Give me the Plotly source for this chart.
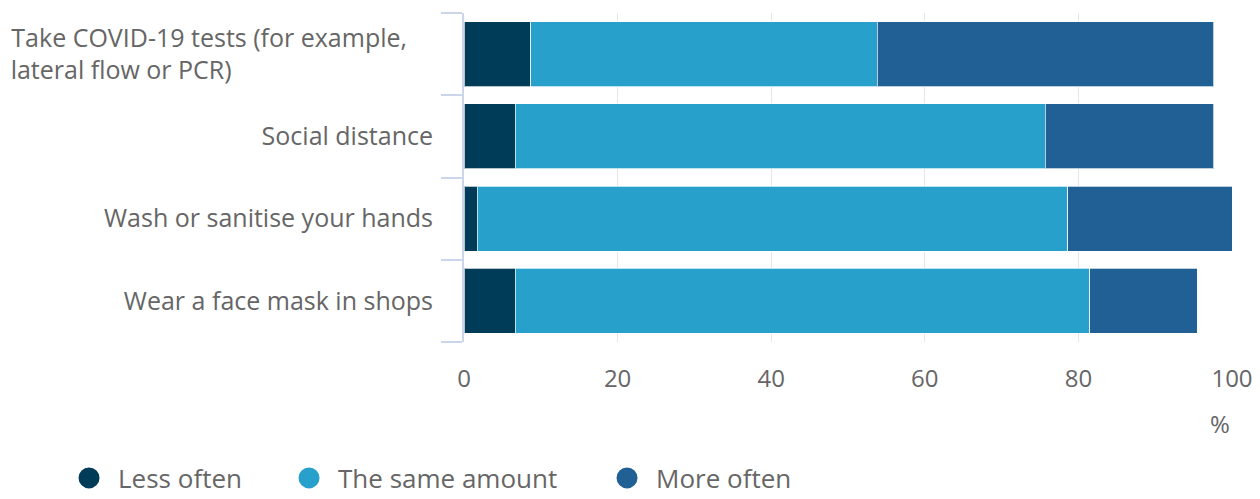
import plotly.graph_objects as go

# ---- data ----
categories = [
    "Take COVID-19 tests (for example, lateral flow or PCR)",
    "Social distance",
    "Wash or sanitise your hands",
    "Wear a face mask in shops",
]
tick_labels = [
    "Take COVID-19 tests (for example,<br>lateral flow or PCR)",
    "Social distance",
    "Wash or sanitise your hands",
    "Wear a face mask in shops",
]
series_names = ["Less often", "The same amount", "More often"]
less_often = [8.7, 6.7, 1.7, 6.7]
same_amount = [45.1, 69.0, 76.9, 74.8]
more_often = [43.8, 21.9, 21.4, 14.0]
x_ticks = [0, 20, 40, 60, 80, 100]

colors = ["#003c57", "#27a0cc", "#206095"]
TEXT = "#666666"
FONT = "Open Sans"
NB = "\u00a0"

# left-align the wrapped first label with non-breaking space padding
display_labels = []
for lab in tick_labels:
    if "<br>" in lab:
        l1, l2 = lab.split("<br>")
        lab = l1 + NB * 4 + "<br>" + l2 + NB * 31
    display_labels.append(lab)

fig = go.Figure()
for name, vals, col in zip(series_names, [less_often, same_amount, more_often], colors):
    fig.add_trace(go.Bar(
        y=categories, x=vals, name=name, orientation="h",
        marker=dict(color=col, line=dict(color="rgba(255,255,255,0.7)", width=1)),
        showlegend=False, hoverinfo="x+y+name",
    ))

legend_widths = [157, 255, 160]
for name, col, lw in zip(series_names, colors, legend_widths):
    fig.add_trace(go.Scatter(
        x=[None], y=[None], mode="markers", name=name,
        marker=dict(symbol="circle", size=16, color=col, line=dict(color=col, width=5)),
        legendwidth=lw, showlegend=True,
    ))

fig.update_layout(
    width=1260, height=499,
    barmode="stack", bargap=0.21,
    paper_bgcolor="white", plot_bgcolor="white",
    margin=dict(l=464, r=28, t=13, b=157, autoexpand=False),
    font=dict(family=FONT, color=TEXT, size=24),
    legend=dict(
        orientation="h", x=-0.526, xanchor="left", y=-0.342, yanchor="top",
        font=dict(size=26, color=TEXT, family=FONT),
        itemwidth=48, traceorder="normal",
        bgcolor="rgba(0,0,0,0)",
    ),
    annotations=[dict(
        text="%", xref="paper", yref="paper", x=0.984, y=-0.249,
        xanchor="center", yanchor="middle", showarrow=False,
        font=dict(size=24, color=TEXT, family=FONT),
    )],
)

fig.update_xaxes(
    range=[0, 100], tickvals=x_ticks, ticktext=[str(v) for v in x_ticks],
    showgrid=True, gridcolor="#e6e6e6", gridwidth=1,
    zeroline=False, showline=False, ticks="",
    tickfont=dict(size=24, color=TEXT, family=FONT),
    ticklabelstandoff=20,
)
fig.update_yaxes(
    type="category", categoryorder="array", categoryarray=categories,
    autorange="reversed",
    tickvals=categories, ticktext=display_labels,
    showgrid=False, zeroline=False,
    showline=True, linecolor="#ccd6eb", linewidth=2,
    ticks="outside", tickson="boundaries", ticklen=21, tickwidth=2, tickcolor="#ccd6eb",
    tickfont=dict(size=25, color=TEXT, family=FONT),
    ticklabelstandoff=24,
)

fig.write_html("out.html")
